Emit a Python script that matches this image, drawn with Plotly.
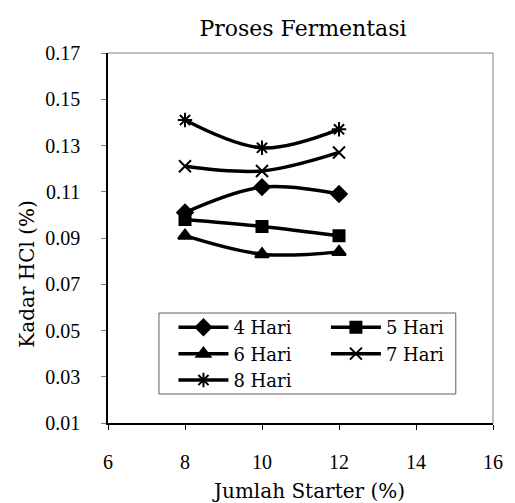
import plotly.graph_objects as go

starter = [8, 10, 12]
hari_4 = [0.101, 0.112, 0.109]
hari_5 = [0.098, 0.095, 0.091]
hari_6 = [0.091, 0.083, 0.084]
hari_7 = [0.121, 0.119, 0.127]
hari_8 = [0.141, 0.129, 0.137]

series = [
    ("4 Hari", hari_4, "diamond", 12, "legend"),
    ("5 Hari", hari_5, "square", 11, "legend2"),
    ("6 Hari", hari_6, "triangle-up", 12, "legend"),
    ("7 Hari", hari_7, "x-thin-open", 12, "legend2"),
    ("8 Hari", hari_8, "asterisk-open", 12, "legend"),
]

TXT = "DejaVu Serif"
NUM = "Liberation Serif"

fig = go.Figure()
for name, vals, sym, size, lg in series:
    fig.add_trace(go.Scatter(
        x=starter, y=vals, name=name, mode="lines+markers",
        line=dict(color="black", width=3.5, shape="spline", smoothing=1),
        marker=dict(symbol=sym, size=size, color="black",
                    line=dict(color="black", width=2)),
        legend=lg,
    ))

fig.update_layout(
    width=515, height=503,
    margin=dict(l=108, r=14, t=53, b=80),
    paper_bgcolor="white", plot_bgcolor="white",
    showlegend=True,
    title=dict(text="Proses Fermentasi", x=303/515, xanchor="center",
               y=1-28/503, yanchor="middle",
               font=dict(family=TXT, size=22, color="black")),
    legend=dict(x=0.170, y=0.308, xanchor="left", yanchor="top",
                bgcolor="rgba(0,0,0,0)", itemwidth=50,
                font=dict(family=TXT, size=18, color="black"),
                tracegroupgap=0),
    legend2=dict(x=0.566, y=0.308, xanchor="left", yanchor="top",
                 bgcolor="rgba(0,0,0,0)", itemwidth=50,
                 font=dict(family=TXT, size=18, color="black"),
                 tracegroupgap=0),
    xaxis=dict(range=[6, 16], dtick=2, tick0=6, showgrid=False, zeroline=False,
               showline=True, linecolor="black", linewidth=1.5,
               ticks="outside", ticklen=5, tickcolor="black",
               ticklabelstandoff=15,
               tickfont=dict(family=NUM, size=20, color="black")),
    yaxis=dict(range=[0.01, 0.17], dtick=0.02, tick0=0.01, tickformat=".2f",
               showgrid=False, zeroline=False,
               showline=True, linecolor="black", linewidth=1.5,
               ticks="outside", ticklen=5, tickcolor="#808080",
               ticklabelstandoff=17,
               tickfont=dict(family=NUM, size=20, color="black")),
    shapes=[
        dict(type="line", xref="paper", yref="paper", x0=0, x1=1, y0=1, y1=1,
             line=dict(color="#808080", width=1)),
        dict(type="line", xref="paper", yref="paper", x0=1, x1=1, y0=0, y1=1,
             line=dict(color="#808080", width=1)),
        dict(type="rect", xref="paper", yref="paper",
             x0=(160-108)/393, x1=(463-108)/393,
             y0=(423-394)/370, y1=(423-313)/370,
             line=dict(color="#606060", width=1)),
    ],
    annotations=[
        dict(text="Jumlah Starter (%)", xref="paper", yref="paper",
             x=(313-108)/393, y=-(491-423)/370, xanchor="center", yanchor="middle",
             showarrow=False, font=dict(family=TXT, size=20, color="black")),
        dict(text="Kadar HCl (%)", xref="paper", yref="paper",
             x=-(108-25)/393, y=(423-274)/370, xanchor="center", yanchor="middle",
             textangle=-90, showarrow=False,
             font=dict(family=TXT, size=20, color="black")),
    ],
)

fig.write_html("out.html", config={"displayModeBar": False},
               post_script="document.body.style.margin='0px';")
